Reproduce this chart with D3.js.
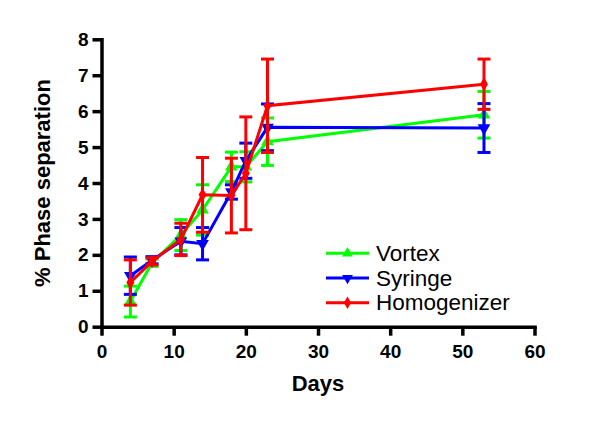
<!DOCTYPE html>
<html>
<head>
<meta charset="utf-8">
<script src="https://cdn.jsdelivr.net/npm/d3@7"></script>
<style>
  body { margin: 0; background: #fff; }
  svg { display: block; font-family: "Liberation Sans", Arial, Helvetica, sans-serif; }
</style>
</head>
<body>
<div id="chart"></div>
<script>
// dias de medicao
const days = [4, 7, 11, 14, 18, 20, 23, 53];

// valores medios e erros de cada serie
const vortex = [0.7, 1.78, 2.55, 3.25, 4.45, 4.45, 5.15, 5.9];
const vortexErr = [0.43, 0.1, 0.43, 0.7, 0.41, 0.42, 0.66, 0.65];
const syringe = [1.42, 1.85, 2.38, 2.31, 3.75, 4.62, 5.55, 5.53];
const syringeErr = [0.52, 0.1, 0.38, 0.45, 0.2, 0.49, 0.65, 0.68];
const homogenizer = [1.23, 1.82, 2.43, 3.67, 3.65, 4.27, 6.15, 6.75];
const homogenizerErr = [0.63, 0.1, 0.45, 1.04, 1.04, 1.57, 1.3, 0.7];

const seriesNames = ["Vortex", "Syringe", "Homogenizer"];
const xTicks = [0, 10, 20, 30, 40, 50, 60];
const yTicks = [0, 1, 2, 3, 4, 5, 6, 7, 8];

const width = 600, height = 421;

const series = [
    { name: seriesNames[0], values: vortex, errs: vortexErr, color: "#00ff00", symbol: d3.symbolTriangle, rot: 0 },
    { name: seriesNames[1], values: syringe, errs: syringeErr, color: "#0000ff", symbol: d3.symbolTriangle, rot: 180 },
    { name: seriesNames[2], values: homogenizer, errs: homogenizerErr, color: "#ff0000", symbol: d3.symbolDiamond, rot: 0 }
];

const svg = d3.select("#chart").append("svg")
    .attr("width", width)
    .attr("height", height);

const x = d3.scaleLinear().domain([0, 60]).range([101.5, 534.5]);
const y = d3.scaleLinear().domain([0, 8]).range([326.7, 39.3]);

// eixos
const xAxis = svg.append("g")
    .attr("transform", `translate(0,${y(0)})`)
    .call(d3.axisBottom(x).tickValues(xTicks).tickSize(9).tickSizeOuter(0).tickPadding(9));

const yAxis = svg.append("g")
    .attr("transform", `translate(${x(0)},0)`)
    .call(d3.axisLeft(y).tickValues(yTicks).tickSize(9).tickSizeOuter(0).tickPadding(4));

[xAxis, yAxis].forEach(a => {
    a.select(".domain").attr("stroke", "#000").attr("stroke-width", 3.5).attr("stroke-linecap", "square");
    a.selectAll(".tick line").attr("stroke", "#000").attr("stroke-width", 3.5);
    a.selectAll(".tick text")
        .attr("fill", "#000")
        .style("font-size", "19px")
        .style("font-weight", "bold")
        .style("font-family", "'Liberation Sans', Arial, sans-serif");
});

// titulos dos eixos
svg.append("text")
    .attr("x", 318)
    .attr("y", 390.7)
    .attr("text-anchor", "middle")
    .style("font-size", "22px")
    .style("font-weight", "bold")
    .text("Days");

svg.append("text")
    .attr("transform", `translate(42,${(y(0) + y(8)) / 2}) rotate(-90)`)
    .attr("text-anchor", "middle")
    .attr("dy", "0.35em")
    .style("font-size", "22px")
    .style("font-weight", "bold")
    .text("% Phase separation");

const line = d3.line()
    .x(d => x(d[0]))
    .y(d => y(d[1]));

const capW = 6.5;

series.forEach(s => {
    const pts = days.map((d, i) => [d, s.values[i], s.errs[i]]);
    const g = svg.append("g");

    // barras de erro
    const eb = g.selectAll(".err").data(pts).enter().append("g")
        .attr("stroke", s.color)
        .attr("stroke-width", 3);
    eb.append("line")
        .attr("x1", d => x(d[0])).attr("x2", d => x(d[0]))
        .attr("y1", d => y(d[1] - d[2])).attr("y2", d => y(d[1] + d[2]));
    eb.append("line")
        .attr("x1", d => x(d[0]) - capW).attr("x2", d => x(d[0]) + capW)
        .attr("y1", d => y(d[1] + d[2])).attr("y2", d => y(d[1] + d[2]));
    eb.append("line")
        .attr("x1", d => x(d[0]) - capW).attr("x2", d => x(d[0]) + capW)
        .attr("y1", d => y(d[1] - d[2])).attr("y2", d => y(d[1] - d[2]));

    // linha da serie
    g.append("path")
        .datum(pts)
        .attr("fill", "none")
        .attr("stroke", s.color)
        .attr("stroke-width", 3)
        .attr("d", line);

    // marcadores
    g.selectAll(".pt").data(pts).enter().append("path")
        .attr("d", d3.symbol().type(s.symbol).size(s.symbol === d3.symbolDiamond ? 55 : 70))
        .attr("fill", s.color)
        .attr("transform", d => `translate(${x(d[0])},${y(d[1])}) rotate(${s.rot})`);
});

// legenda
const legend = svg.append("g");
series.forEach((s, i) => {
    const ly = 253.3 + i * 24.7;
    legend.append("line")
        .attr("x1", 326).attr("x2", 369)
        .attr("y1", ly).attr("y2", ly)
        .attr("stroke", s.color)
        .attr("stroke-width", 3);
    legend.append("path")
        .attr("d", d3.symbol().type(s.symbol).size(s.symbol === d3.symbolDiamond ? 45 : 50))
        .attr("fill", s.color)
        .attr("transform", `translate(347.5,${ly}) rotate(${s.rot})`);
    legend.append("text")
        .attr("x", 376)
        .attr("y", ly + 7.5)
        .style("font-size", "22.5px")
        .text(s.name);
});
</script>
</body>
</html>
